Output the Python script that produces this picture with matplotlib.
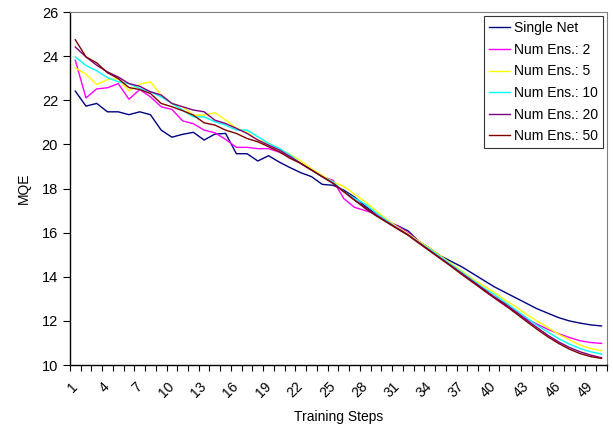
import numpy as np
import matplotlib.pyplot as plt

plt.rcParams['font.family'] = ['Liberation Sans', 'DejaVu Sans']

steps = np.arange(1, 51)

single_net = [22.42, 21.74, 21.86, 21.48, 21.48, 21.35, 21.48, 21.35, 20.65, 20.33,
              20.46, 20.55, 20.20, 20.47, 20.50, 19.58, 19.58, 19.25, 19.49, 19.20,
              18.95, 18.72, 18.54, 18.19, 18.15, 17.93, 17.62, 17.20, 16.85, 16.50,
              16.32, 16.08, 15.60, 15.30, 14.95, 14.70, 14.45, 14.15, 13.85, 13.55,
              13.30, 13.05, 12.80, 12.55, 12.35, 12.15, 12.00, 11.90, 11.82, 11.77]

ens_2 = [23.82, 22.11, 22.52, 22.57, 22.76, 22.05, 22.49, 22.16, 21.71, 21.59,
         21.07, 20.94, 20.65, 20.53, 20.23, 19.87, 19.87, 19.81, 19.81, 19.65,
         19.45, 19.14, 18.84, 18.54, 18.38, 17.55, 17.15, 17.00, 16.85, 16.55,
         16.30, 16.00, 15.60, 15.25, 14.90, 14.55, 14.15, 13.80, 13.40, 13.05,
         12.70, 12.40, 12.10, 11.85, 11.62, 11.42, 11.25, 11.10, 11.02, 10.98]

ens_5 = [23.47, 23.19, 22.72, 22.94, 22.98, 22.43, 22.73, 22.84, 22.24, 21.86,
         21.71, 21.33, 21.33, 21.44, 21.10, 20.75, 20.55, 20.20, 20.05, 19.80,
         19.55, 19.25, 18.90, 18.60, 18.30, 18.10, 17.75, 17.40, 17.00, 16.60,
         16.25, 15.95, 15.60, 15.30, 14.95, 14.60, 14.25, 13.90, 13.60, 13.30,
         12.95, 12.65, 12.30, 12.00, 11.70, 11.40, 11.15, 10.90, 10.75, 10.65]

ens_10 = [23.97, 23.58, 23.34, 23.03, 22.84, 22.76, 22.54, 22.39, 22.16, 21.86,
          21.56, 21.25, 21.25, 21.03, 20.88, 20.65, 20.65, 20.35, 20.05, 19.82,
          19.52, 19.14, 18.84, 18.54, 18.30, 17.86, 17.56, 17.30, 16.90, 16.55,
          16.20, 15.90, 15.55, 15.25, 14.90, 14.55, 14.20, 13.85, 13.50, 13.20,
          12.85, 12.50, 12.15, 11.80, 11.50, 11.20, 10.95, 10.75, 10.60, 10.50]

ens_20 = [24.42, 23.97, 23.59, 23.29, 23.06, 22.76, 22.64, 22.39, 22.24, 21.86,
          21.71, 21.56, 21.48, 21.10, 20.95, 20.73, 20.50, 20.20, 19.97, 19.75,
          19.45, 19.14, 18.84, 18.54, 18.24, 17.86, 17.48, 17.15, 16.80, 16.50,
          16.20, 15.90, 15.55, 15.20, 14.85, 14.50, 14.15, 13.80, 13.45, 13.10,
          12.78, 12.42, 12.05, 11.70, 11.35, 11.05, 10.80, 10.60, 10.45, 10.33]

ens_50 = [24.75, 23.97, 23.70, 23.25, 22.99, 22.58, 22.49, 22.31, 21.86, 21.71,
          21.53, 21.33, 20.98, 20.88, 20.65, 20.50, 20.27, 20.12, 19.90, 19.67,
          19.37, 19.14, 18.84, 18.54, 18.24, 17.86, 17.48, 17.10, 16.77, 16.47,
          16.17, 15.88, 15.52, 15.17, 14.82, 14.47, 14.10, 13.75, 13.40, 13.05,
          12.72, 12.35, 11.98, 11.62, 11.28, 10.98, 10.72, 10.52, 10.38, 10.30]

series = [("Single Net", single_net, "#000080"),
          ("Num Ens.: 2", ens_2, "#FF00FF"),
          ("Num Ens.: 5", ens_5, "#FFFF00"),
          ("Num Ens.: 10", ens_10, "#00FFFF"),
          ("Num Ens.: 20", ens_20, "#800080"),
          ("Num Ens.: 50", ens_50, "#800000")]

fig = plt.figure(figsize=(6.13, 4.33), dpi=100)
ax = fig.add_axes([0.114, 0.157, 0.876, 0.815])

for name, vals, col in series:
    ax.plot(steps, vals, color=col, lw=1.0, label=name)

ax.set_xlim(0.5, 50.5)
ax.set_ylim(10, 26)
ax.set_yticks(np.arange(10, 27, 2))
ax.set_xticks(steps[::3])
ax.set_xticklabels([str(s) for s in steps[::3]], rotation=45, ha='right',
                   va='center', rotation_mode='anchor')
ax.set_xticks(np.arange(0.5, 51, 1), minor=True)
ax.tick_params(axis='x', which='major', length=0, pad=14, labelsize=10)
ax.tick_params(axis='x', which='minor', length=4, direction='out', width=0.8)
ax.tick_params(axis='y', length=5, direction='out', width=0.8, labelsize=10.5)

for s in ['top', 'right']:
    ax.spines[s].set_color('#808080')
    ax.spines[s].set_linewidth(0.8)
for s in ['left', 'bottom']:
    ax.spines[s].set_linewidth(1.0)

ax.set_xlabel('Training Steps', fontsize=10, labelpad=7)
ax.set_ylabel('MQE', fontsize=10, labelpad=8)

leg = ax.legend(loc='upper right', fontsize=10, frameon=True, fancybox=False,
                handlelength=1.5, handletextpad=0.3, borderaxespad=0.3,
                labelspacing=0.55, borderpad=0.35)
leg.get_frame().set_edgecolor('black')
leg.get_frame().set_linewidth(0.8)

plt.savefig('out.png', dpi=100)
